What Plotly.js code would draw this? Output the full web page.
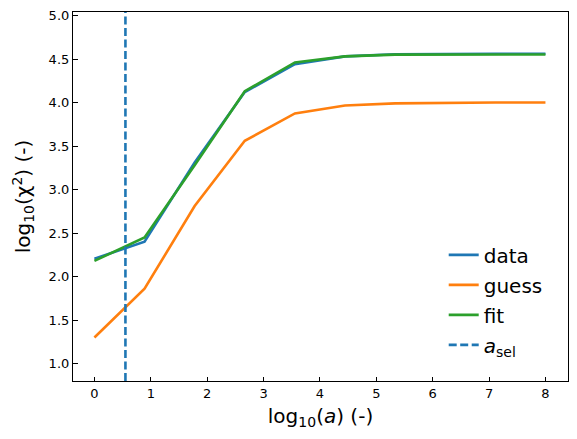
<!DOCTYPE html>
<html>
<head>
<meta charset="utf-8">
<script src="https://cdn.plot.ly/plotly-3.0.1.min.js"></script>
<style>html,body{margin:0;padding:0;background:#fff;}#chart{width:577px;height:439px;}</style>
</head>
<body>
<div id="chart"></div>
<script>
const logA = [0, 0.889, 1.778, 2.667, 3.556, 4.444, 5.333, 6.222, 7.111, 8];
const dataChi = [2.205, 2.40, 3.31, 4.12, 4.44, 4.53, 4.555, 4.56, 4.56, 4.56];
const guessChi = [1.30, 1.86, 2.81, 3.56, 3.875, 3.965, 3.99, 3.998, 4.0, 4.0];
const fitChi = [2.18, 2.45, 3.28, 4.13, 4.46, 4.53, 4.55, 4.552, 4.552, 4.552];
const aSel = 0.55;
const seriesNames = ["data", "guess", "fit"];
const colors = ["#1f77b4", "#ff7f0e", "#2ca02c"];

const ys = [dataChi, guessChi, fitChi];
const traces = ys.map((y, i) => ({
  x: logA, y: y, type: "scatter", mode: "lines", name: seriesNames[i],
  legendgroup: "g" + i,
  line: {color: colors[i], width: 2.6}
}));

const layout = {
  width: 577, height: 439,
  margin: {l: 73, r: 9, t: 12, b: 58},
  paper_bgcolor: "#fff", plot_bgcolor: "#fff",
  font: {family: "DejaVu Sans", size: 13, color: "#000"},
  showlegend: true,
  legend: {
    x: 0.959, xanchor: "right", y: 0.045, yanchor: "bottom",
    bgcolor: "rgba(0,0,0,0)", borderwidth: 0,
    font: {family: "DejaVu Sans", size: 20, color: "#000"},
    traceorder: "grouped", tracegroupgap: 1
  },
  xaxis: {
    range: [-0.38, 8.4],
    tickvals: [0,1,2,3,4,5,6,7,8],
    ticks: "inside", ticklen: 4.5, tickwidth: 1, tickcolor: "#000",
    showline: true, linecolor: "#000", linewidth: 1.1, mirror: true,
    showgrid: false, zeroline: false,
    tickfont: {family: "DejaVu Sans", size: 13, color: "#000"},
    title: {text: "log<sub>10</sub>(<i>a</i>) (-)", font: {family: "DejaVu Sans", size: 20, color: "#000"}, standoff: 9}
  },
  yaxis: {
    range: [0.8, 5.04],
    tickvals: [1.0,1.5,2.0,2.5,3.0,3.5,4.0,4.5,5.0],
    ticktext: ["1.0","1.5","2.0","2.5","3.0","3.5","4.0","4.5","5.0"],
    ticks: "inside", ticklen: 4.5, tickwidth: 1, tickcolor: "#000",
    showline: true, linecolor: "#000", linewidth: 1.1, mirror: true,
    showgrid: false, zeroline: false,
    tickfont: {family: "DejaVu Sans", size: 13, color: "#000"},
    title: {text: "log<sub>10</sub>(χ<sup>2</sup>) (-)", font: {family: "DejaVu Sans", size: 20, color: "#000"}, standoff: 12}
  },
  shapes: [{
    type: "line", xref: "x", yref: "paper", x0: aSel, x1: aSel, y0: 0, y1: 1,
    line: {color: "#1f77b4", width: 2.6, dash: "8px,3.5px"},
    showlegend: true, name: "<i>a</i><sub>sel</sub>", legendgroup: "g3",
    layer: "above"
  }]
};

Plotly.newPlot("chart", traces, layout, {displayModeBar: false, staticPlot: true});
</script>
</body>
</html>
